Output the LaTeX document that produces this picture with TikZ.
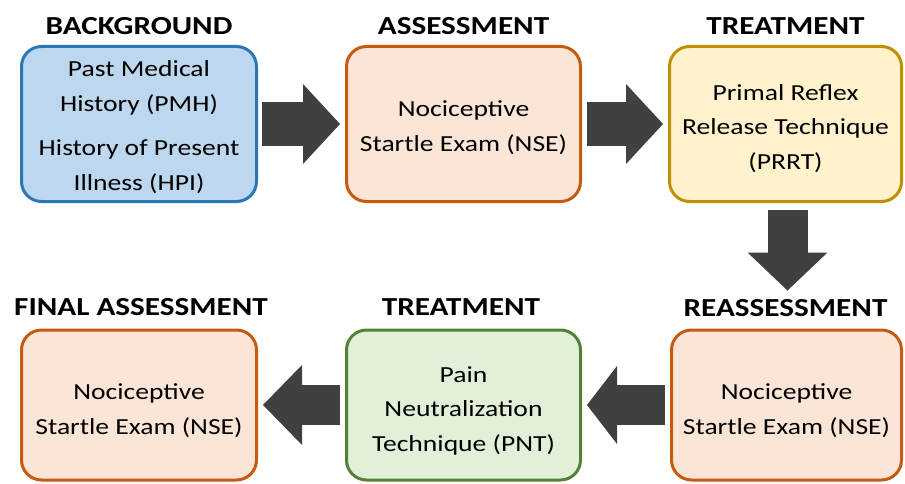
\documentclass[tikz,border=0pt]{standalone}
\usepackage{fontspec}
\setmainfont{Carlito}[FakeStretch=1.2]
\usetikzlibrary{arrows.meta}
\definecolor{bluefill}{HTML}{BDD7EE}
\definecolor{blueline}{HTML}{2E75B6}
\definecolor{orfill}{HTML}{FBE5D6}
\definecolor{orline}{HTML}{C55A11}
\definecolor{yefill}{HTML}{FFF2CC}
\definecolor{yeline}{HTML}{BF9000}
\definecolor{grfill}{HTML}{E2F0D9}
\definecolor{grline}{HTML}{548235}
\definecolor{arrowgray}{HTML}{404040}
\newcommand{\boxlines}[2][-4pt]{\raisebox{#1}[\height][\depth]{\begin{tabular}{@{}c@{}}#2\end{tabular}}}
\begin{document}
\begin{tikzpicture}[x=1pt,y=-1pt,
  box/.style={draw, line width=3pt, rounded corners=20pt,
    inner sep=0pt, minimum width=235pt,
    font=\fontsize{23}{34.5}\selectfont},
  bluebox/.style={box, fill=bluefill, draw=blueline},
  orbox/.style={box, fill=orfill, draw=orline},
  yebox/.style={box, fill=yefill, draw=yeline},
  grbox/.style={box, fill=grfill, draw=grline},
  lab/.style={anchor=base, inner sep=0pt, font=\fontsize{26}{30}\selectfont\bfseries},
  blockarrow/.style={draw=arrowgray, line width=44pt,
    -{Triangle[width=80pt,length=37pt,line width=0pt]}}
]
\useasboundingbox (0,0) rectangle (905,484);

% top row
\node[bluebox, minimum height=155pt, minimum width=235pt] (b1) at (139,124)
  {\boxlines[-2.5pt]{Past Medical\\History (PMH)\\[10pt]History of Present\\Illness (HPI)}};
\node[orbox, minimum height=155pt, minimum width=234pt] (b2) at (463.5,124)
  {\boxlines[-3pt]{Nociceptive\\Startle Exam (NSE)}};
\node[yebox, minimum height=155pt, minimum width=232pt] (b3) at (785.5,124)
  {\boxlines[-4pt]{Primal Reflex\\Release Technique\\(PRRT)}};

% bottom row
\node[orbox, minimum height=150pt, minimum width=235pt] (b4) at (139,405)
  {\boxlines[-5pt]{Nociceptive\\Startle Exam (NSE)}};
\node[grbox, minimum height=150pt, minimum width=234pt] (b5) at (463.5,405)
  {\boxlines[-5pt]{Pain\\Neutralization\\Technique (PNT)}};
\node[orbox, minimum height=150pt, minimum width=230pt] (b6) at (786.5,405)
  {\boxlines[-5pt]{Nociceptive\\Startle Exam (NSE)}};

% labels
\node[lab] (l1) at (139,35) {BACKGROUND};
\node[lab] (l2) at (463.5,35) {ASSESSMENT};
\node[lab] (l3) at (785.5,35) {TREATMENT};
\node[lab] (l4) at (141,315) {FINAL ASSESSMENT};
\node[lab] (l5) at (461,315) {TREATMENT};
\node[lab] (l6) at (785.5,316) {REASSESSMENT};

% block arrows
\draw[blockarrow, shorten <=4pt, shorten >=5pt] (b1.east) -- (b2.west);
\draw[blockarrow, shorten <=5pt, shorten >=5pt] (b2.east) -- (b3.west);
\draw[blockarrow, line width=40pt, shorten <=7pt, shorten >=38pt,
  -{Triangle[width=80pt,length=38pt,line width=0pt]}]
  ([xshift=2pt]b3.south) -- ([xshift=2pt]b3.south |- b6.north);
\draw[blockarrow, line width=40pt, shorten <=5pt, shorten >=5pt,
  -{Triangle[width=78pt,length=30pt,line width=0pt]}] (b6.west) -- (b5.east);
\draw[blockarrow, line width=40pt, shorten <=5pt, shorten >=5pt,
  -{Triangle[width=80pt,length=39pt,line width=0pt]}] (b5.west) -- (b4.east);
\end{tikzpicture}
\end{document}
